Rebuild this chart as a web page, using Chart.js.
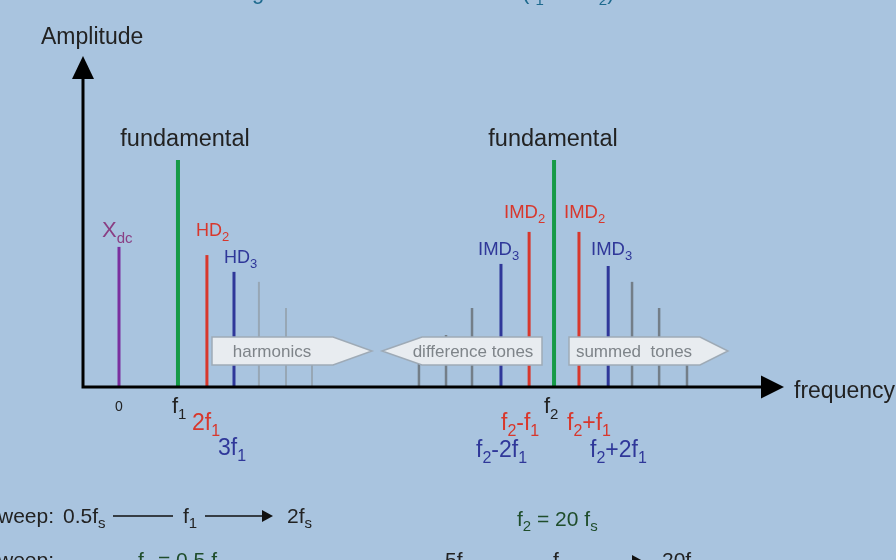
<!DOCTYPE html>
<html>
<head>
<meta charset="utf-8">
<script src="https://cdn.jsdelivr.net/npm/chart.js@4"></script>
<style>
  body { margin: 0; background: #a9c4df; }
  #wrap { width: 896px; height: 560px; }
</style>
</head>
<body>
<div id="wrap"><canvas id="spec"></canvas></div>
<script>
// spectrum lines: frequency position (in line spacings, 0 = dc) and relative amplitude (fundamental = 100)
const freqs = [0, 2.2, 3.28, 4.29, 5.22, 6.23, 7.2, 11.19, 12.2, 13.17, 14.25, 15.3, 16.23, 17.16, 18.25, 19.14, 20.15, 21.19];
const amps  = [61.7, 100, 58.1, 50.7, 46.3, 34.8, 20, 20, 22.9, 34.8, 54.2, 68.3, 100, 68.3, 53.3, 46.3, 34.8, 20];
const kinds = ['dc', 'fund', 'hd2', 'hd3', 'harm', 'harm', 'harm', 'imd', 'imd', 'imd', 'imd3', 'imd2', 'fund', 'imd2', 'imd3', 'imd', 'imd', 'imd'];

const colors = { dc: '#7a2f9e', fund: '#169a47', hd2: '#d8372c', imd2: '#d8372c', hd3: '#2f3799', imd3: '#2f3799', harm: '#97a7b5', imd: '#737e88' };
const widths = { dc: 3, fund: 4, hd2: 3, imd2: 3, hd3: 3, imd3: 3, harm: 2, imd: 2.5 };

const RED = '#d8372c', BLUE = '#2f3799', DARK = '#222';
const FONT = '"Liberation Sans", Arial, sans-serif';

// draw text with subscripts, parts starting with "_" are subscripts
function rich(ctx, x, y, parts, size, color, align) {
  const sub = Math.round(size * 0.7);
  let w = 0;
  parts.forEach(p => {
    const s = p[0] === '_';
    ctx.font = (s ? sub : size) + 'px ' + FONT;
    w += ctx.measureText(s ? p.slice(1) : p).width;
  });
  let cx = align === 'center' ? x - w / 2 : (align === 'right' ? x - w : x);
  ctx.fillStyle = color;
  ctx.textAlign = 'left';
  ctx.textBaseline = 'alphabetic';
  parts.forEach(p => {
    const s = p[0] === '_';
    const t = s ? p.slice(1) : p;
    ctx.font = (s ? sub : size) + 'px ' + FONT;
    ctx.fillText(t, cx, s ? y + size * 0.25 : y);
    cx += ctx.measureText(t).width;
  });
}

function box(ctx, pts, label, cx) {
  ctx.beginPath();
  pts.forEach((p, i) => i ? ctx.lineTo(p[0], p[1]) : ctx.moveTo(p[0], p[1]));
  ctx.closePath();
  ctx.fillStyle = '#e8ecf0';
  ctx.fill();
  ctx.strokeStyle = '#9eaab6';
  ctx.lineWidth = 1.5;
  ctx.stroke();
  ctx.font = '17px ' + FONT;
  ctx.fillStyle = '#7e8489';
  ctx.textAlign = 'center';
  ctx.textBaseline = 'middle';
  ctx.fillText(label, cx, 352);
}

function arrowLine(ctx, x0, x1, y, head) {
  ctx.strokeStyle = '#111';
  ctx.lineWidth = 1.6;
  ctx.beginPath(); ctx.moveTo(x0, y); ctx.lineTo(x1, y); ctx.stroke();
  if (head) {
    ctx.fillStyle = '#111';
    ctx.beginPath(); ctx.moveTo(x1, y - 6); ctx.lineTo(x1 + 11, y); ctx.lineTo(x1, y + 6); ctx.closePath(); ctx.fill();
  }
}

const annotations = {
  id: 'annotations',
  afterDatasetsDraw(chart) {
    const ctx = chart.ctx;
    const area = chart.chartArea;
    const y0 = chart.scales.y.getPixelForValue(0);
    const xl = area.left;
    ctx.save();

    // boxes over the small lines
    box(ctx, [[212, 337], [333, 337], [372, 351], [333, 365], [212, 365]], 'harmonics', 272);
    box(ctx, [[382, 351], [422, 337], [542, 337], [542, 365], [422, 365]], 'difference tones', 473);
    box(ctx, [[569, 337], [700, 337], [728, 351], [700, 365], [569, 365]], 'summed  tones', 634);

    // axes with arrow heads
    ctx.strokeStyle = '#000';
    ctx.fillStyle = '#000';
    ctx.lineWidth = 3;
    ctx.beginPath();
    ctx.moveTo(xl, y0 + 1.5); ctx.lineTo(xl, 70);
    ctx.moveTo(xl - 1.5, y0); ctx.lineTo(765, y0);
    ctx.stroke();
    ctx.beginPath(); ctx.moveTo(xl, 56); ctx.lineTo(xl + 11, 79); ctx.lineTo(xl - 11, 79); ctx.closePath(); ctx.fill();
    ctx.beginPath(); ctx.moveTo(784, y0); ctx.lineTo(761, y0 - 11.5); ctx.lineTo(761, y0 + 11.5); ctx.closePath(); ctx.fill();

    // cut-off title at the top
    rich(ctx, 252, -1, ['g'], 22, '#1e6a8e', 'left');
    rich(ctx, 522, -1, ['(f', '_1', ' and f', '_2', ')'], 22, '#1e6a8e', 'left');

    // axis titles
    ctx.font = '23px ' + FONT;
    ctx.fillStyle = DARK;
    ctx.textAlign = 'left';
    ctx.textBaseline = 'alphabetic';
    ctx.fillText('Amplitude', 41, 44);
    ctx.fillText('frequency', 794, 398);
    ctx.font = '23.5px ' + FONT;
    ctx.textAlign = 'center';
    ctx.fillText('fundamental', 185, 146);
    ctx.fillText('fundamental', 553, 146);

    // line labels
    rich(ctx, 102, 237, ['X', '_dc'], 22, '#8a3f84', 'left');
    rich(ctx, 196, 236, ['HD', '_2'], 18, RED, 'left');
    rich(ctx, 224, 263, ['HD', '_3'], 18, BLUE, 'left');
    rich(ctx, 504, 218, ['IMD', '_2'], 18.5, RED, 'left');
    rich(ctx, 564, 218, ['IMD', '_2'], 18.5, RED, 'left');
    rich(ctx, 478, 255, ['IMD', '_3'], 18.5, BLUE, 'left');
    rich(ctx, 591, 255, ['IMD', '_3'], 18.5, BLUE, 'left');

    // frequency labels below the axis
    rich(ctx, 119, 411, ['0'], 14, DARK, 'center');
    rich(ctx, 172, 413, ['f', '_1'], 22, DARK, 'left');
    rich(ctx, 192, 430, ['2f', '_1'], 23, RED, 'left');
    rich(ctx, 218, 455, ['3f', '_1'], 23, BLUE, 'left');
    rich(ctx, 544, 413, ['f', '_2'], 22, DARK, 'left');
    rich(ctx, 501, 430, ['f', '_2', '-f', '_1'], 23, RED, 'left');
    rich(ctx, 567, 430, ['f', '_2', '+f', '_1'], 23, RED, 'left');
    rich(ctx, 476, 457, ['f', '_2', '-2f', '_1'], 23, BLUE, 'left');
    rich(ctx, 590, 457, ['f', '_2', '+2f', '_1'], 23, BLUE, 'left');

    // sweep notes at the bottom
    rich(ctx, -2, 523, ['weep:'], 21, DARK, 'left');
    rich(ctx, 63, 523, ['0.5f', '_s'], 21, DARK, 'left');
    arrowLine(ctx, 113, 173, 516, false);
    rich(ctx, 183, 523, ['f', '_1'], 21, DARK, 'left');
    arrowLine(ctx, 205, 262, 516, true);
    rich(ctx, 287, 523, ['2f', '_s'], 21, DARK, 'left');
    rich(ctx, 517, 526, ['f', '_2', ' = 20 f', '_s'], 21, '#1f4d2b', 'left');

    rich(ctx, -2, 567, ['weep:'], 21, DARK, 'left');
    rich(ctx, 138, 567, ['f', '_1', ' = 0.5 f', '_s'], 21, '#1f4d2b', 'left');
    rich(ctx, 445, 567, ['5f', '_s'], 21, DARK, 'left');
    arrowLine(ctx, 478, 540, 561, false);
    rich(ctx, 553, 567, ['f', '_2'], 21, DARK, 'left');
    arrowLine(ctx, 572, 632, 561, true);
    rich(ctx, 662, 567, ['20f', '_s'], 21, DARK, 'left');

    ctx.restore();
  }
};

const datasets = freqs.map((f, i) => ({
  data: [{ x: f, y: 0 }, { x: f, y: amps[i] }],
  showLine: true,
  borderColor: colors[kinds[i]],
  borderWidth: widths[kinds[i]],
  pointRadius: 0,
  clip: false
}));

new Chart(document.getElementById('spec'), {
  type: 'scatter',
  data: { datasets },
  options: {
    responsive: true,
    maintainAspectRatio: false,
    animation: false,
    layout: { padding: { left: 83, right: 131, top: 75, bottom: 173 } },
    plugins: { legend: { display: false }, tooltip: { enabled: false } },
    scales: {
      x: { type: 'linear', min: -1.343, max: 24.1, display: false },
      y: { type: 'linear', min: 0, max: 137.4, display: false }
    }
  },
  plugins: [annotations]
});
</script>
</body>
</html>
